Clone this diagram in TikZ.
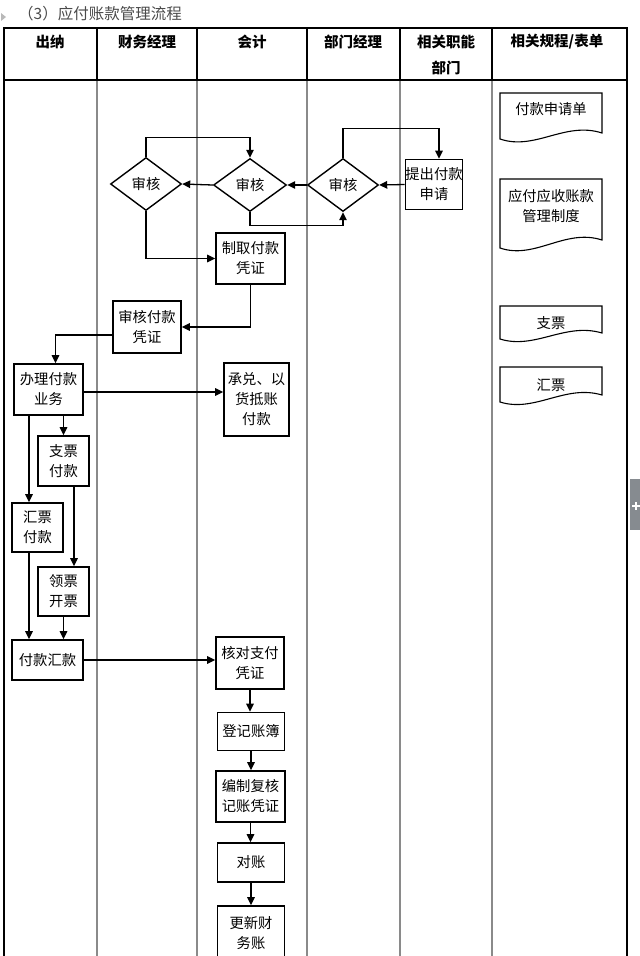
\documentclass[tikz,border=0pt]{standalone}
\usepackage{fontspec}
\newfontfamily\cjk{Noto Sans CJK SC}
\usetikzlibrary{arrows.meta,shapes.geometric,calc}
\newcommand\myNodeFont{\cjk\fontsize{14.3pt}{20pt}\selectfont}
\newcommand\myHeadFont{\cjk\bfseries\fontsize{14.5pt}{26pt}\selectfont}
\definecolor{lanegray}{HTML}{8A8A8A}
\definecolor{tabgray}{HTML}{868B90}
\definecolor{titlegray}{HTML}{4A4A4A}
\tikzset{
  box/.style={draw,line width=1.6pt,fill=white,inner sep=0pt,align=center,font=\myNodeFont},
  dia/.style={diamond,draw,line width=1.4pt,fill=white,inner sep=0pt,font=\myNodeFont},
  conn/.style={line width=1.3pt,-{Triangle[length=8pt,width=7.5pt]}},
  docline/.style={line width=1.1pt,fill=white},
  doctext/.style={inner sep=0pt,align=center,font=\myNodeFont},
  headtext/.style={inner sep=0pt,align=center,font=\myHeadFont},
  lane/.style={lanegray,line width=1.2pt},
  frame/.style={black,line width=1.8pt}
}
\begin{document}
\begin{tikzpicture}[x=1pt,y=-1pt]
\useasboundingbox (0,0) rectangle (640,956);
% title
\fill[gray!55] (1,13) -- (6,17) -- (1,21) -- cycle;
\node[anchor=west,inner sep=0pt,text=titlegray,font=\cjk\fontsize{15.5pt}{18pt}\selectfont] (title) at (18,14) {（3）应付账款管理流程};
% lanes
\foreach \x in {97,197,307,400,492} {\draw[lane] (\x,28) -- (\x,962);}
\draw[frame] (4,962) -- (4,28) -- (627,28) -- (627,962);
\draw[frame] (4,80) -- (627,80);
\foreach \x in {97,197,307,400,492} {\draw[black,line width=1.2pt] (\x,28) -- (\x,80);}
% header
\node[headtext] (h1) at (50,42) {出纳};
\node[headtext] (h2) at (147,42) {财务经理};
\node[headtext] (h3) at (252,42) {会计};
\node[headtext] (h4) at (353,42) {部门经理};
\node[headtext] (h5) at (446,42) {相关职能};
\node[headtext] (h5b) at (446,68) {部门};
\node[headtext] (h6) at (557,42) {相关规程/表单};
% documents
\draw[docline] (500,93) -- (500,139) .. controls (535,151) and (565,121) .. (602,133) -- (602,93) -- cycle;
\node[doctext] (doc1) at (551,109) {付款申请单};
\draw[docline] (500,179) -- (500,248) .. controls (535,260) and (565,228) .. (602,240) -- (602,179) -- cycle;
\node[doctext] (doc2) at (551,206.5) {应付应收账款\\管理制度};
\draw[docline] (500,306) -- (500,339) .. controls (535,350) and (565,322) .. (602,333) -- (602,306) -- cycle;
\node[doctext] (doc3) at (551,323) {支票};
\draw[docline] (500,367) -- (500,402) .. controls (535,413) and (565,384) .. (602,395) -- (602,367) -- cycle;
\node[doctext] (doc4) at (551,385) {汇票};
% nodes
\node[dia,minimum width=71pt,minimum height=53pt] (d1) at (146,184) {审核};
\node[dia,minimum width=73pt,minimum height=53pt] (d2) at (250,185) {审核};
\node[dia,minimum width=71pt,minimum height=53pt] (d3) at (343,185) {审核};
\node[box,minimum width=57pt,minimum height=50pt] (req) at (434,184.5) {提出付款\\申请};
\node[box,minimum width=69pt,minimum height=51pt] (zq) at (250.5,258.5) {制取付款\\凭证};
\node[box,minimum width=68pt,minimum height=52pt] (sk) at (147,327) {审核付款\\凭证};
\node[box,minimum width=69pt,minimum height=51pt] (ban) at (48.5,389.5) {办理付款\\业务};
\node[box,minimum width=65pt,minimum height=73pt] (cd) at (256.5,399.5) {承兑、以\\货抵账\\付款};
\node[box,minimum width=51pt,minimum height=50pt] (zp) at (63.5,461) {支票\\付款};
\node[box,minimum width=51pt,minimum height=49pt] (hp) at (37.5,527.5) {汇票\\付款};
\node[box,minimum width=51pt,minimum height=49pt] (lp) at (63.5,591.5) {领票\\开票};
\node[box,minimum width=71pt,minimum height=40pt] (fh) at (47.5,660) {付款汇款};
\node[box,minimum width=68pt,minimum height=52pt] (hd) at (250,663) {核对支付\\凭证};
\node[box,minimum width=67pt,minimum height=38pt] (dj) at (251,731.5) {登记账簿};
\node[box,minimum width=69pt,minimum height=51pt] (bz) at (250.5,796.5) {编制复核\\记账凭证};
\node[box,minimum width=67pt,minimum height=39pt] (dz) at (251,862.5) {对账};
\node[box,minimum width=67pt,minimum height=54pt] (gx) at (251,933) {更新财\\务账};
% helper coordinates
\coordinate (reqin) at ($(req.north)+(5,0)$);
\coordinate (skout) at ($(sk.west)+(0,8)$);
\coordinate (banin) at ($(ban.north)+(7,0)$);
\coordinate (banout) at ($(ban.east)+(0,2.5)$);
\coordinate (hpin) at ($(hp.north)+(-8.5,0)$);
\coordinate (lpin) at ($(lp.north)+(10.5,0)$);
% connectors
\draw[conn] (req.west) -- (d3.east);
\draw[conn] (d3.west) -- (d2.east);
\draw[conn] (d2.west) -- (d1.east);
\draw[conn] (d3.north) |- ($(reqin)+(0,-30)$) -- (reqin);
\draw[conn] (d1.north) |- ($(d2.north)+(0,-20)$) -- (d2.north);
\draw[conn] (d2.south) |- ($(d3.south)+(0,13)$) -- (d3.south);
\draw[conn] (d1.south) |- (zq.west);
\draw[conn] (zq.south) |- (sk.east);
\draw[conn] (skout) -| (banin);
\draw[conn] (banout) -- (banout -| cd.west);
\draw[conn] (zp.north |- ban.south) -- (zp.north);
\draw[conn] (hpin |- ban.south) -- (hpin);
\draw[conn] (lpin |- zp.south) -- (lpin);
\draw[conn] (hpin |- hp.south) -- (hpin |- fh.north);
\draw[conn] (lp.south) -- (lp.south |- fh.north);
\draw[conn] (fh.east) -- (fh.east -| hd.west);
\draw[conn] (hd.south) -- (hd.south |- dj.north);
\draw[conn] (dj.south) -- (dj.south |- bz.north);
\draw[conn] (bz.south) -- (bz.south |- dz.north);
\draw[conn] (dz.south) -- (dz.south |- gx.north);
% side tab
\fill[tabgray] (630,479) rectangle (641,530);
\draw[white,line width=2pt] (632,506) -- (639.5,506) (635.75,502) -- (635.75,510);
\end{tikzpicture}
\end{document}
